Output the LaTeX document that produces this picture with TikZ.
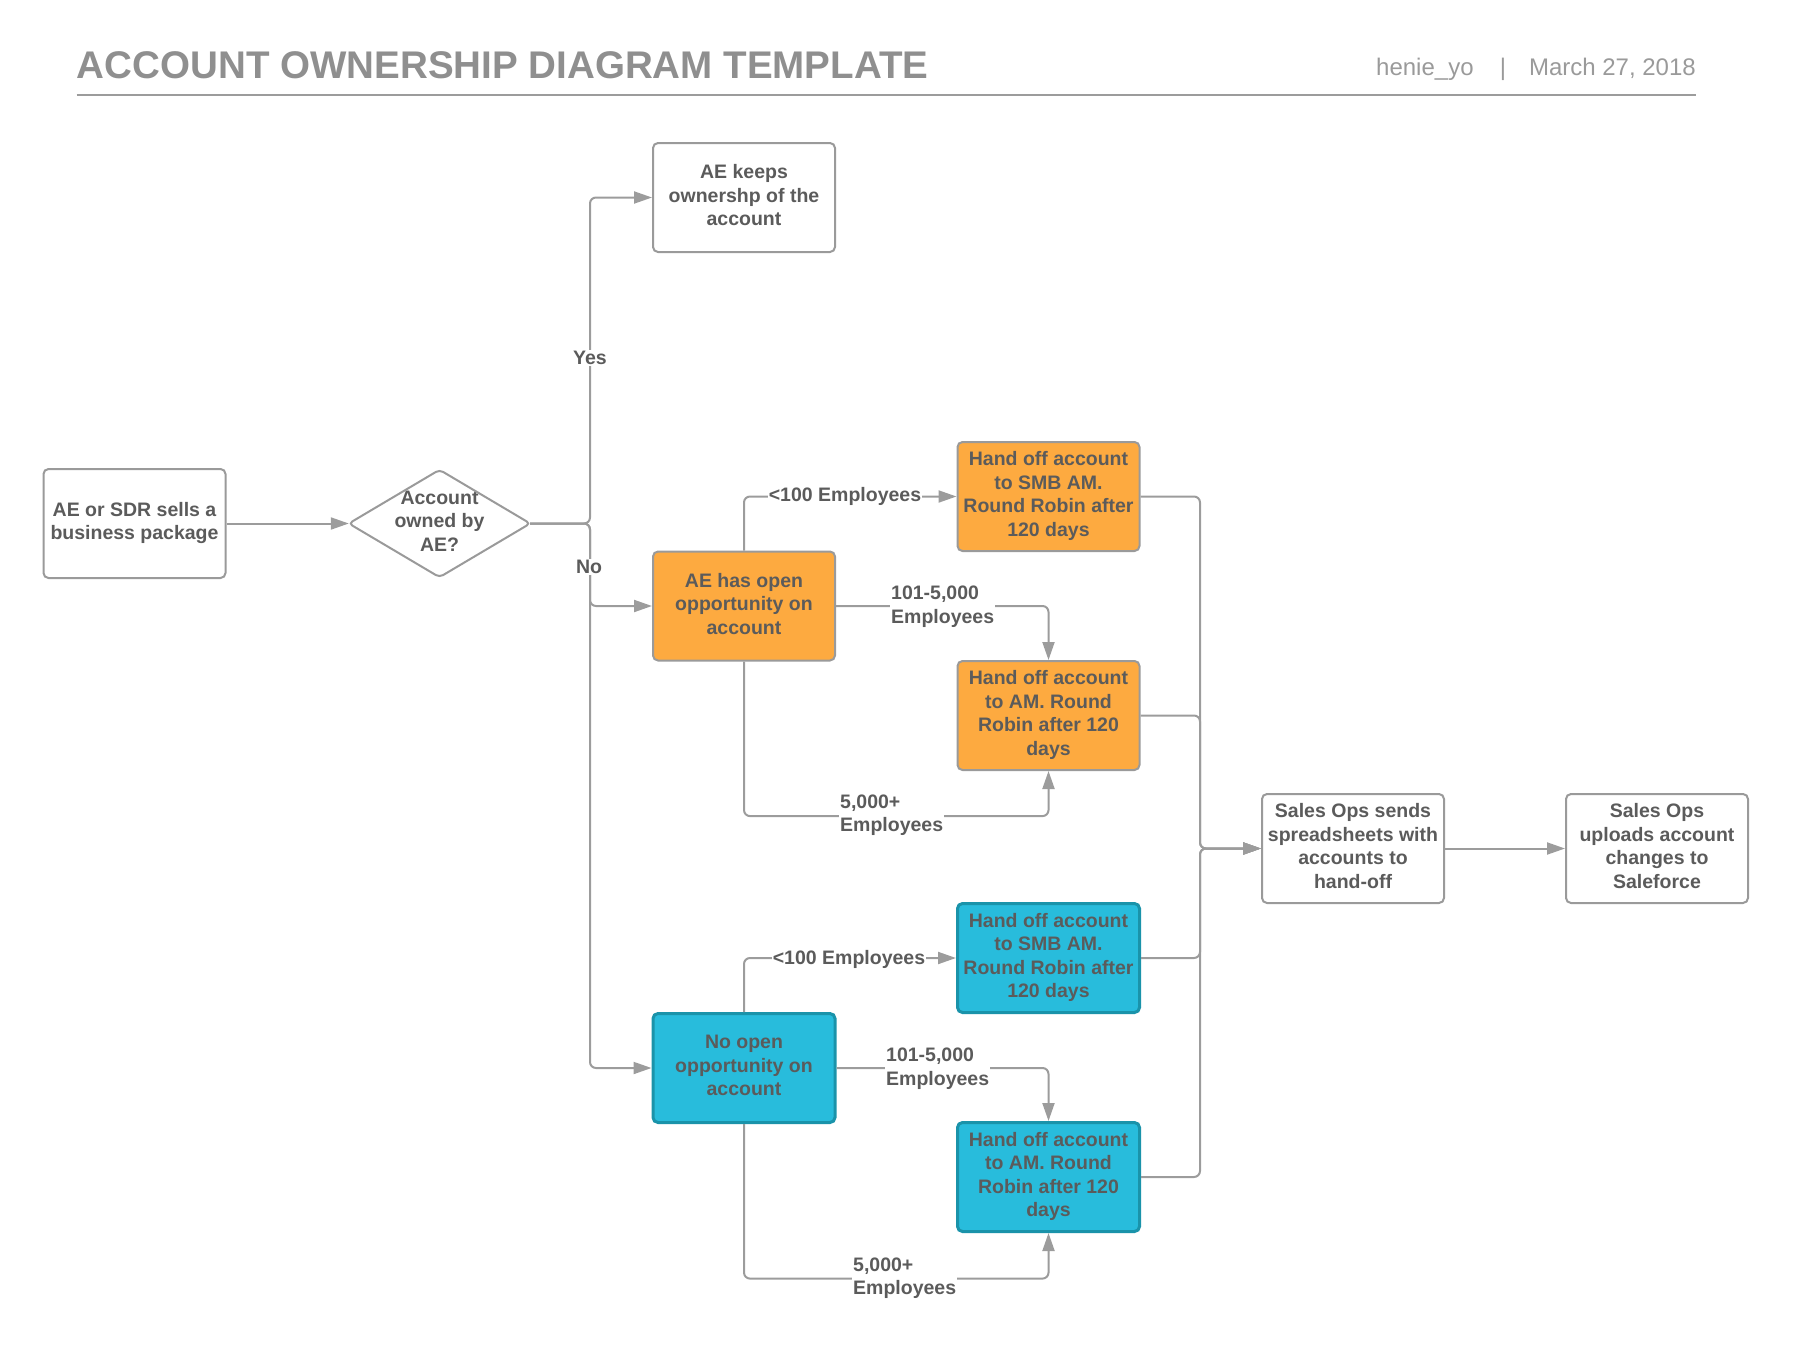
\documentclass[tikz,border=0pt]{standalone}
\usepackage{fontspec}
\setmainfont{Liberation Sans}
\usetikzlibrary{arrows.meta}
\definecolor{txt}{HTML}{5B5B5B}
\definecolor{bgray}{HTML}{9A9A9A}
\definecolor{lgray}{HTML}{9C9C9C}
\definecolor{ttl}{HTML}{8F8F8F}
\definecolor{hdr}{HTML}{9A9A9A}
\definecolor{orng}{HTML}{FDAA40}
\definecolor{blu}{HTML}{28BCDC}
\definecolor{bluedge}{HTML}{1A93AA}
\newcommand\nfont{\fontsize{19.5}{23.5}\selectfont\bfseries}
\begin{document}
\begin{tikzpicture}[x=1pt,y=-1pt,
  box/.style={draw=bgray, fill=white, line width=2pt, rounded corners=5pt,
    minimum width=182pt, minimum height=109pt, inner sep=0pt, text depth=5pt,
    align=center, font=\nfont, text=txt},
  obox/.style={box, fill=orng},
  bbox/.style={box, fill=blu, draw=bluedge, line width=3pt},
  conn/.style={draw=lgray, line width=2pt, rounded corners=6pt},
  arr/.style={conn, -{Triangle[length=18pt,width=12pt]}},
  lbl/.style={fill=white, inner sep=1pt, font=\nfont, text=txt, align=left}]
\useasboundingbox (0,0) rectangle (1794,1346);
% header
\node[anchor=base west, inner sep=0pt, text=ttl, font=\fontsize{38.55}{40}\selectfont\bfseries] (title) at (76.7,78) {ACCOUNT OWNERSHIP DIAGRAM TEMPLATE};
\draw[draw=lgray, line width=2.5pt] (76.7,95) coordinate (r1) -- (1695.6,95) coordinate (r2);
\node[anchor=base west, inner sep=0pt, text=hdr, font=\fontsize{24}{28}\selectfont] (auth) at (1376,75.5) {henie\_yo};
\node[anchor=base, inner sep=0pt, text=hdr, font=\fontsize{24}{28}\selectfont] (bar) at (1503,75.5) {|};
\node[anchor=base east, inner sep=0pt, text=hdr, font=\fontsize{24}{28}\selectfont] (date) at (1696,75.5) {March 27, 2018};
% nodes
\node[box] (start) at (134.5,523.5) {AE or SDR sells a\\business package};
\node[inner sep=0pt, minimum width=181pt, minimum height=107pt, text depth=5pt, align=center, font=\nfont, text=txt] (dia) at (439.5,523.5) {Account\\owned by\\AE?};
\draw[draw=bgray, line width=2pt, rounded corners=4pt] (dia.west) -- (dia.north) -- (dia.east) -- (dia.south) -- cycle;
\node[box] (keeps) at (744,197.5) {AE keeps\\ownershp of the\\account};
\node[obox] (aeopen) at (744,606) {AE has open\\opportunity on\\account};
\node[obox] (smb1) at (1048.5,496.5) {Hand off account\\to SMB AM.\\Round Robin after\\120 days};
\node[obox] (am1) at (1048.5,715.5) {Hand off account\\to AM. Round\\Robin after 120\\days};
\node[bbox] (noopen) at (744,1068) {No open\\opportunity on\\account};
\node[bbox] (smb2) at (1048.5,958) {Hand off account\\to SMB AM.\\Round Robin after\\120 days};
\node[bbox] (am2) at (1048.5,1177) {Hand off account\\to AM. Round\\Robin after 120\\days};
\node[box] (sends) at (1353,848.5) {Sales Ops sends\\spreadsheets with\\accounts to\\hand-off};
\node[box] (uploads) at (1657,848.5) {Sales Ops\\uploads account\\changes to\\Saleforce};
\coordinate (j1) at (590,523.5);
\coordinate (j2) at (1200,848.5);
% connectors
\draw[arr] (start.east) -- (dia.west);
\draw[arr] (dia.east) -- (j1) |- (keeps.west);
\draw[arr] (dia.east) -- (j1) |- (aeopen.west);
\draw[arr] (dia.east) -- (j1) |- (noopen.west);
\draw[arr] (aeopen.north) |- (smb1.west);
\draw[arr] (aeopen.east) -| (am1.north);
\draw[arr] (aeopen.south) -- ++(0,154.6) -| (am1.south);
\draw[arr] (noopen.north) |- (smb2.west);
\draw[arr] (noopen.east) -| (am2.north);
\draw[arr] (noopen.south) -- ++(0,154.6) -| (am2.south);
\draw[arr] (smb1.east) -| (j2) -- (sends.west);
\draw[arr] (am1.east) -| (j2) -- (sends.west);
\draw[arr] (smb2.east) -| (j2) -- (sends.west);
\draw[arr] (am2.east) -| (j2) -- (sends.west);
\draw[arr] (sends.east) -- (uploads.west);
% labels
\node[lbl] (lyes) at (590,358) {Yes};
\node[lbl] (lno) at (589,567) {No};
\node[lbl] (l1) at (845,496.5) {<100 Employees};
\node[lbl, anchor=west] (l2) at (890,606.5) {101-5,000\\Employees};
\node[lbl, anchor=west] (l3) at (839,815) {5,000+\\Employees};
\node[lbl] (l4) at (849,959) {<100 Employees};
\node[lbl, anchor=west] (l5) at (885,1068.5) {101-5,000\\Employees};
\node[lbl, anchor=west] (l6) at (852,1278) {5,000+\\Employees};
\end{tikzpicture}
\end{document}
